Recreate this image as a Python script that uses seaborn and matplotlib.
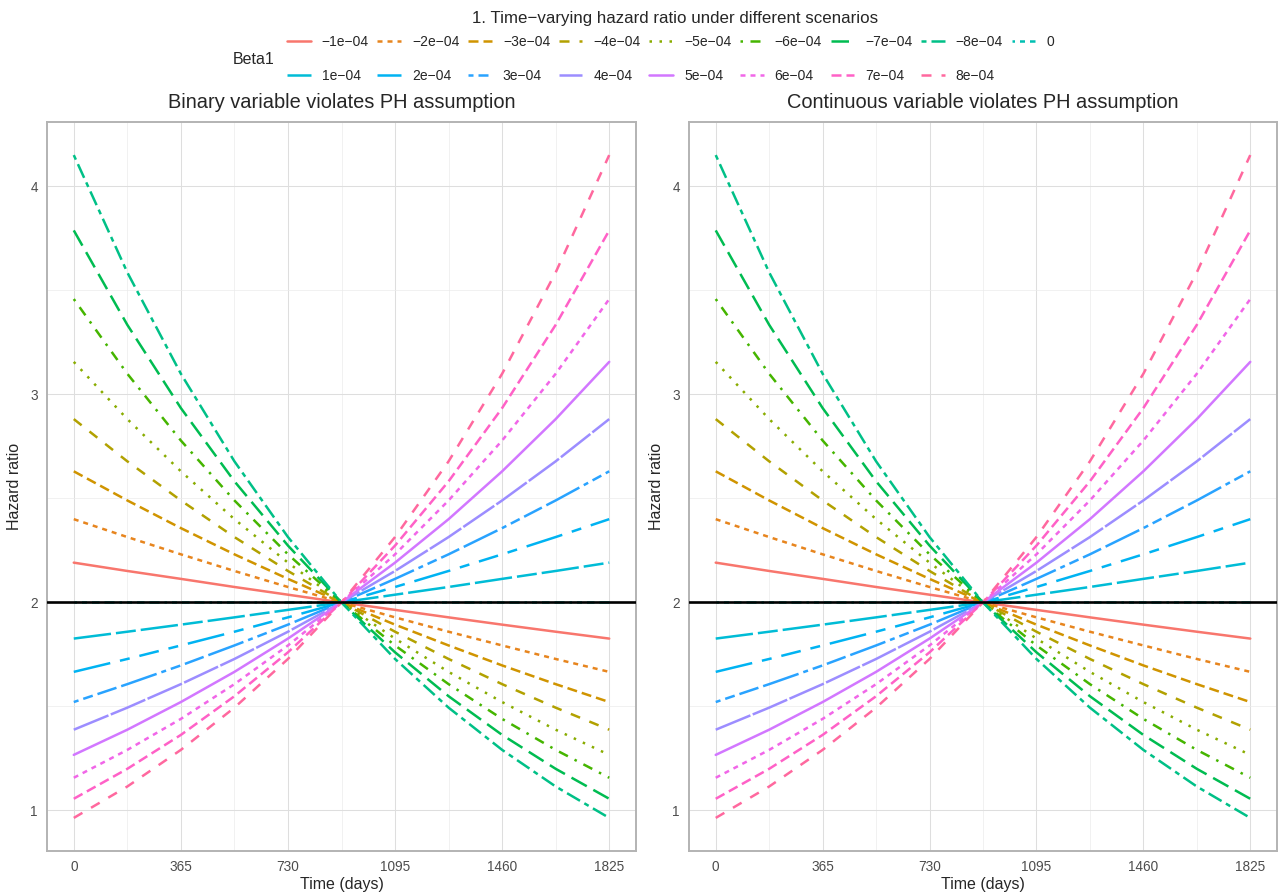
import numpy as np
import pandas as pd
import matplotlib
matplotlib.use("Agg")
import matplotlib.pyplot as plt
import seaborn as sns
from matplotlib.lines import Line2D

## Data: hazard ratio at a few time points per Beta1 level
time_days = [0, 182.5, 365, 547.5, 730, 912.5, 1095, 1277.5, 1460, 1642.5, 1825]

beta_levels = ["\u22121e\u221204", "\u22122e\u221204", "\u22123e\u221204", "\u22124e\u221204",
               "\u22125e\u221204", "\u22126e\u221204", "\u22127e\u221204", "\u22128e\u221204",
               "0", "1e\u221204", "2e\u221204", "3e\u221204", "4e\u221204",
               "5e\u221204", "6e\u221204", "7e\u221204", "8e\u221204"]

hr_neg1 = [2.191, 2.151, 2.113, 2.074, 2.037, 2.000, 1.964, 1.928, 1.893, 1.859, 1.826]
hr_neg2 = [2.400, 2.314, 2.231, 2.151, 2.074, 2.000, 1.928, 1.859, 1.793, 1.728, 1.666]
hr_neg3 = [2.630, 2.490, 2.357, 2.231, 2.113, 2.000, 1.893, 1.793, 1.697, 1.607, 1.521]
hr_neg4 = [2.881, 2.678, 2.490, 2.314, 2.151, 2.000, 1.859, 1.728, 1.607, 1.494, 1.388]
hr_neg5 = [3.156, 2.881, 2.630, 2.400, 2.191, 2.000, 1.826, 1.666, 1.521, 1.388, 1.267]
hr_neg6 = [3.458, 3.099, 2.778, 2.490, 2.231, 2.000, 1.793, 1.607, 1.440, 1.291, 1.157]
hr_neg7 = [3.788, 3.334, 2.934, 2.582, 2.273, 2.000, 1.760, 1.549, 1.363, 1.200, 1.056]
hr_neg8 = [4.150, 3.586, 3.099, 2.678, 2.314, 2.000, 1.728, 1.494, 1.291, 1.115, 0.964]
hr_zero = [2.000, 2.000, 2.000, 2.000, 2.000, 2.000, 2.000, 2.000, 2.000, 2.000, 2.000]
hr_pos1 = [1.826, 1.859, 1.893, 1.928, 1.964, 2.000, 2.037, 2.074, 2.113, 2.151, 2.191]
hr_pos2 = [1.666, 1.728, 1.793, 1.859, 1.928, 2.000, 2.074, 2.151, 2.231, 2.314, 2.400]
hr_pos3 = [1.521, 1.607, 1.697, 1.793, 1.893, 2.000, 2.113, 2.231, 2.357, 2.490, 2.630]
hr_pos4 = [1.388, 1.494, 1.607, 1.728, 1.859, 2.000, 2.151, 2.314, 2.490, 2.678, 2.881]
hr_pos5 = [1.267, 1.388, 1.521, 1.666, 1.826, 2.000, 2.191, 2.400, 2.630, 2.881, 3.156]
hr_pos6 = [1.157, 1.291, 1.440, 1.607, 1.793, 2.000, 2.231, 2.490, 2.778, 3.099, 3.458]
hr_pos7 = [1.056, 1.200, 1.363, 1.549, 1.760, 2.000, 2.273, 2.582, 2.934, 3.334, 3.788]
hr_pos8 = [0.964, 1.115, 1.291, 1.494, 1.728, 2.000, 2.314, 2.678, 3.099, 3.586, 4.150]

hr_values = [hr_neg1, hr_neg2, hr_neg3, hr_neg4, hr_neg5, hr_neg6, hr_neg7, hr_neg8,
             hr_zero, hr_pos1, hr_pos2, hr_pos3, hr_pos4, hr_pos5, hr_pos6, hr_pos7, hr_pos8]

panel_titles = ["Binary variable violates PH assumption",
                "Continuous variable violates PH assumption"]
x_ticks = [0, 365, 730, 1095, 1460, 1825]
y_ticks = [1, 2, 3, 4]


def hcl_to_hex(h, c, l):
    # polar Luv -> sRGB, same as R's hcl()
    xn, yn, zn = 95.047, 100.0, 108.883
    un = 4 * xn / (xn + 15 * yn + 3 * zn)
    vn = 9 * yn / (xn + 15 * yn + 3 * zn)
    u = c * np.cos(np.radians(h))
    v = c * np.sin(np.radians(h))
    y = yn * ((l + 16) / 116) ** 3 if l > 8 else yn * l / 903.3
    up = u / (13 * l) + un
    vp = v / (13 * l) + vn
    x = 9.0 * y * up / (4 * vp)
    z = -x / 3 - 5 * y + 3 * y / vp
    xyz = np.array([x, y, z]) / 100
    m = np.array([[3.240479, -1.537150, -0.498535],
                  [-0.969256, 1.875992, 0.041556],
                  [0.055648, -0.204043, 1.057311]])
    rgb = m @ xyz
    rgb = np.where(rgb > 0.0031308, 1.055 * np.power(np.clip(rgb, 0, None), 1 / 2.4) - 0.055, 12.92 * rgb)
    rgb = np.clip(rgb, 0, 1)
    return matplotlib.colors.to_hex(rgb)


hues = np.linspace(15, 375, len(beta_levels) + 1)[:-1]
palette = {lev: hcl_to_hex(h, 100, 65) for lev, h in zip(beta_levels, hues)}

# ggplot linetypes, recycled
lty_hex = ["", "22", "42", "44", "13", "1343", "73", "2262", "12223242",
           "F282", "F4448444", "224282F2", "F1"]
def lty_to_dashes(s):
    return "" if s == "" else tuple(int(ch, 16) for ch in s)
dashes = {lev: lty_to_dashes(lty_hex[i % len(lty_hex)]) for i, lev in enumerate(beta_levels)}

rows = []
for lev, vals in zip(beta_levels, hr_values):
    for t, v in zip(time_days, vals):
        rows.append({"time": t, "hr": v, "beta": lev})
df = pd.DataFrame(rows)

sns.set_style("white")
plt.rcParams['font.family'] = ['Liberation Sans', 'DejaVu Sans']

fig = plt.figure(figsize=(12.78, 8.93), dpi=100)
W, H = 1278, 893
ax1 = fig.add_axes([47 / W, 42 / H, 589 / W, 729 / H])
ax2 = fig.add_axes([689 / W, 42 / H, 588 / W, 729 / H])

LW = 1.8
for ax, ttl in zip([ax1, ax2], panel_titles):
    sns.lineplot(data=df, x="time", y="hr", hue="beta", style="beta",
                 hue_order=beta_levels, style_order=beta_levels,
                 palette=palette, dashes=dashes, estimator=None, sort=True,
                 linewidth=LW, legend=False, ax=ax)
    ax.axhline(2, color="black", lw=1.9, zorder=5)
    ax.set_xticks(x_ticks)
    ax.set_yticks(y_ticks)
    ax.set_xticks([182.5, 547.5, 912.5, 1277.5, 1642.5], minor=True)
    ax.set_yticks([1.5, 2.5, 3.5], minor=True)
    ax.set_xlim(-91.25, 1916.25)
    ax.set_ylim(0.805, 4.309)
    ax.grid(True, which="major", color="#DEDEDE", lw=0.75)
    ax.grid(True, which="minor", color="#EBEBEB", lw=0.5)
    ax.set_axisbelow(True)
    for sp in ax.spines.values():
        sp.set_color("#B3B3B3")
        sp.set_linewidth(1.4)
    ax.tick_params(which="major", length=3.5, width=0.7, color="#B3B3B3",
                   labelcolor="#4D4D4D", labelsize=9.8, pad=3)
    ax.tick_params(which="minor", length=0)
    ax.set_xlabel("Time (days)", fontsize=11.5, labelpad=2)
    ax.set_ylabel("Hazard ratio", fontsize=11.5, labelpad=6)
    ax.set_title(ttl, fontsize=14.4, pad=10)

fig.text(675 / W, 1 - 19 / H, "1. Time\u2212varying hazard ratio under different scenarios",
         ha="center", va="center", fontsize=12.2)
fig.text(233 / W, 1 - 59 / H, "Beta1", ha="left", va="center", fontsize=11.5)

# legend filled by row: reorder for matplotlib's column-major layout
handles = {lev: Line2D([], [], color=palette[lev], lw=LW,
                       dashes=dashes[lev] if dashes[lev] != "" else (None, None))
           for lev in beta_levels}
order = []
for i in range(8):
    order.append(beta_levels[i])
    order.append(beta_levels[9 + i])
order.append(beta_levels[8])
leg = fig.legend([handles[k] for k in order], order, loc="center left",
                 bbox_to_anchor=(287 / W, 1 - 59 / H), ncol=9, frameon=False,
                 fontsize=10, handlelength=1.7, handletextpad=0.8,
                 columnspacing=0.62, labelspacing=1.45, borderpad=0, borderaxespad=0)

fig.savefig("out.png", dpi=100)
